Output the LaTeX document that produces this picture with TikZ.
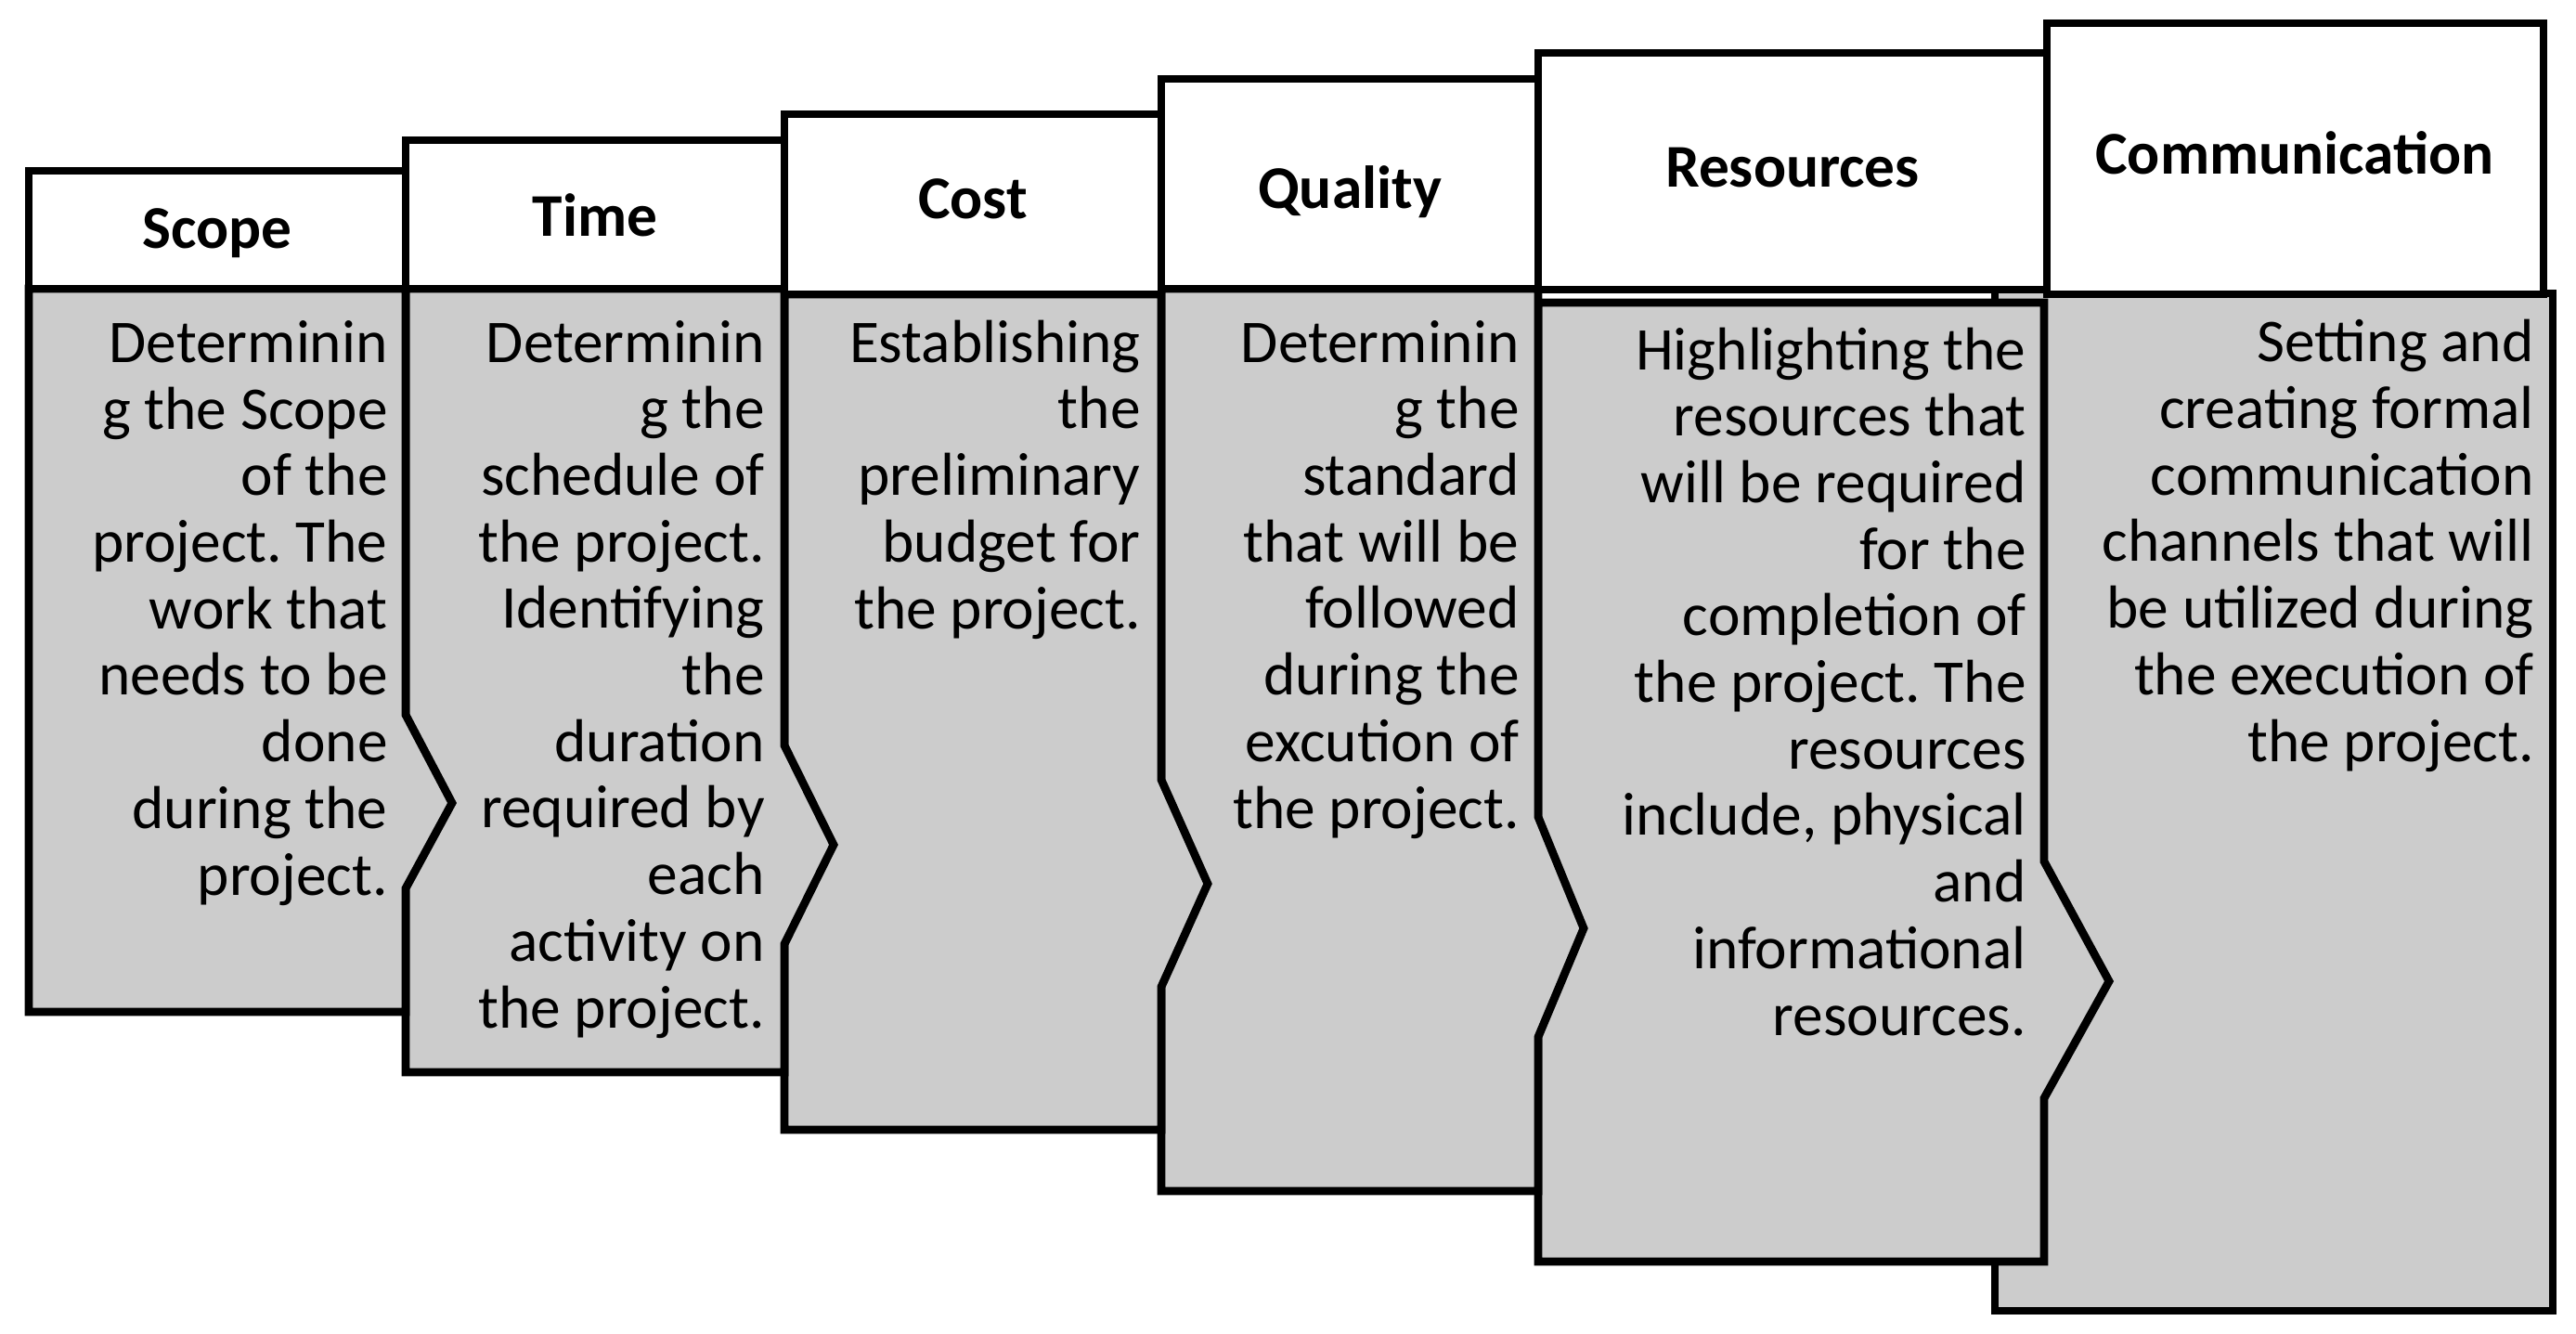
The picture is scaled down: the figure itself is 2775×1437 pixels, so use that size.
\documentclass[tikz,border=0pt]{standalone}
\usepackage{fontspec}
\setmainfont{Carlito}
\frenchspacing
\definecolor{bodygrey}{RGB}{204,204,204}
\tikzset{
	every path/.style={line width=2.5pt},
	head/.style={draw=black,fill=white},
	body/.style={draw=black,fill=bodygrey},
	headtext/.style={anchor=base,inner sep=0pt,font=\bfseries\fontsize{18.6}{20.4}\selectfont},
	bodytext/.style={anchor=base east,align=right,inner sep=0pt,font=\fontsize{18.6}{20.4}\selectfont},
}
\begin{document}
\begin{tikzpicture}[x=0.1mm,y=-0.1mm]
	\useasboundingbox (0,0) rectangle (2775,1437);

	% Communication body (behind the others)..........
	\fill [bodygrey] (2149,316) rectangle (2750,1412);
	\draw (2205,316) -- (2750,316) -- (2750,1412) -- (2149,1412) -- (2149,316);

	% Resources body..........
	\draw [body] (1657,326) -- (2202,326) -- (2202,928) -- (2272,1057) -- (2202,1183) -- (2202,1359) -- (1657,1359) -- cycle;

	% Quality body..........
	\draw [body] (1251,311) -- (1657,311) -- (1657,880) -- (1706,1000) -- (1657,1117) -- (1657,1283) -- (1251,1283) -- cycle;

	% Cost body..........
	\draw [body] (845,317) -- (1251,317) -- (1251,840) -- (1301,952) -- (1251,1063) -- (1251,1217) -- (845,1217) -- cycle;

	% Time body..........
	\draw [body] (437,311) -- (845,311) -- (845,803) -- (898,910) -- (845,1017) -- (845,1155) -- (437,1155) -- cycle;

	% Scope body..........
	\draw [body] (31,311) -- (437,311) -- (437,770) -- (487,865) -- (437,957) -- (437,1090) -- (31,1090) -- cycle;

	% header boxes..........
	\draw [head] (31,184) rectangle (437,311);
	\draw [head] (437,151) rectangle (845,311);
	\draw [head] (845,123) rectangle (1251,317);
	\draw [head] (1251,85) rectangle (1657,311);
	\draw [head] (1657,57) rectangle (2205,312);
	\draw [head] (2205,25) rectangle (2740,317);

	% header labels..........
	\node [headtext] (scopehead) at (234,268) {Scope};
	\node [headtext] (timehead) at (641,255) {Time};
	\node [headtext] (costhead) at (1048,236) {Cost};
	\node [headtext] (qualityhead) at (1454,225) {Quality};
	\node [headtext] (resourceshead) at (1931,202) {Resources};
	\node [headtext] (commhead) at (2472,188) {Communication};

	% body texts (anchored at the baseline of their last line)..........
	\node [bodytext] (scopetext) at (422,964) {Determinin\\g the Scope\\of the\\project. The\\work that\\needs to be\\done\\during the\\project.};
	\node [bodytext] (timetext) at (828,1107) {Determinin\\g the\\schedule of\\the project.\\Identifying\\the\\duration\\required by\\each\\activity on\\the project.};
	\node [bodytext] (costtext) at (1233,677) {Establishing\\the\\preliminary\\budget for\\the project.};
	\node [bodytext] (qualitytext) at (1641,892) {Determinin\\g the\\standard\\that will be\\followed\\during the\\excution of\\the project.};
	\node [bodytext] (resourcestext) at (2187,1115) {Highlighting the\\resources that\\will be required\\for the\\completion of\\the project. The\\resources\\include, physical\\and\\informational\\resources.};
	\node [bodytext] (commtext) at (2734,820) {Setting and\\creating formal\\communication\\channels that will\\be utilized during\\the execution of\\the project.};
\end{tikzpicture}
\end{document}
